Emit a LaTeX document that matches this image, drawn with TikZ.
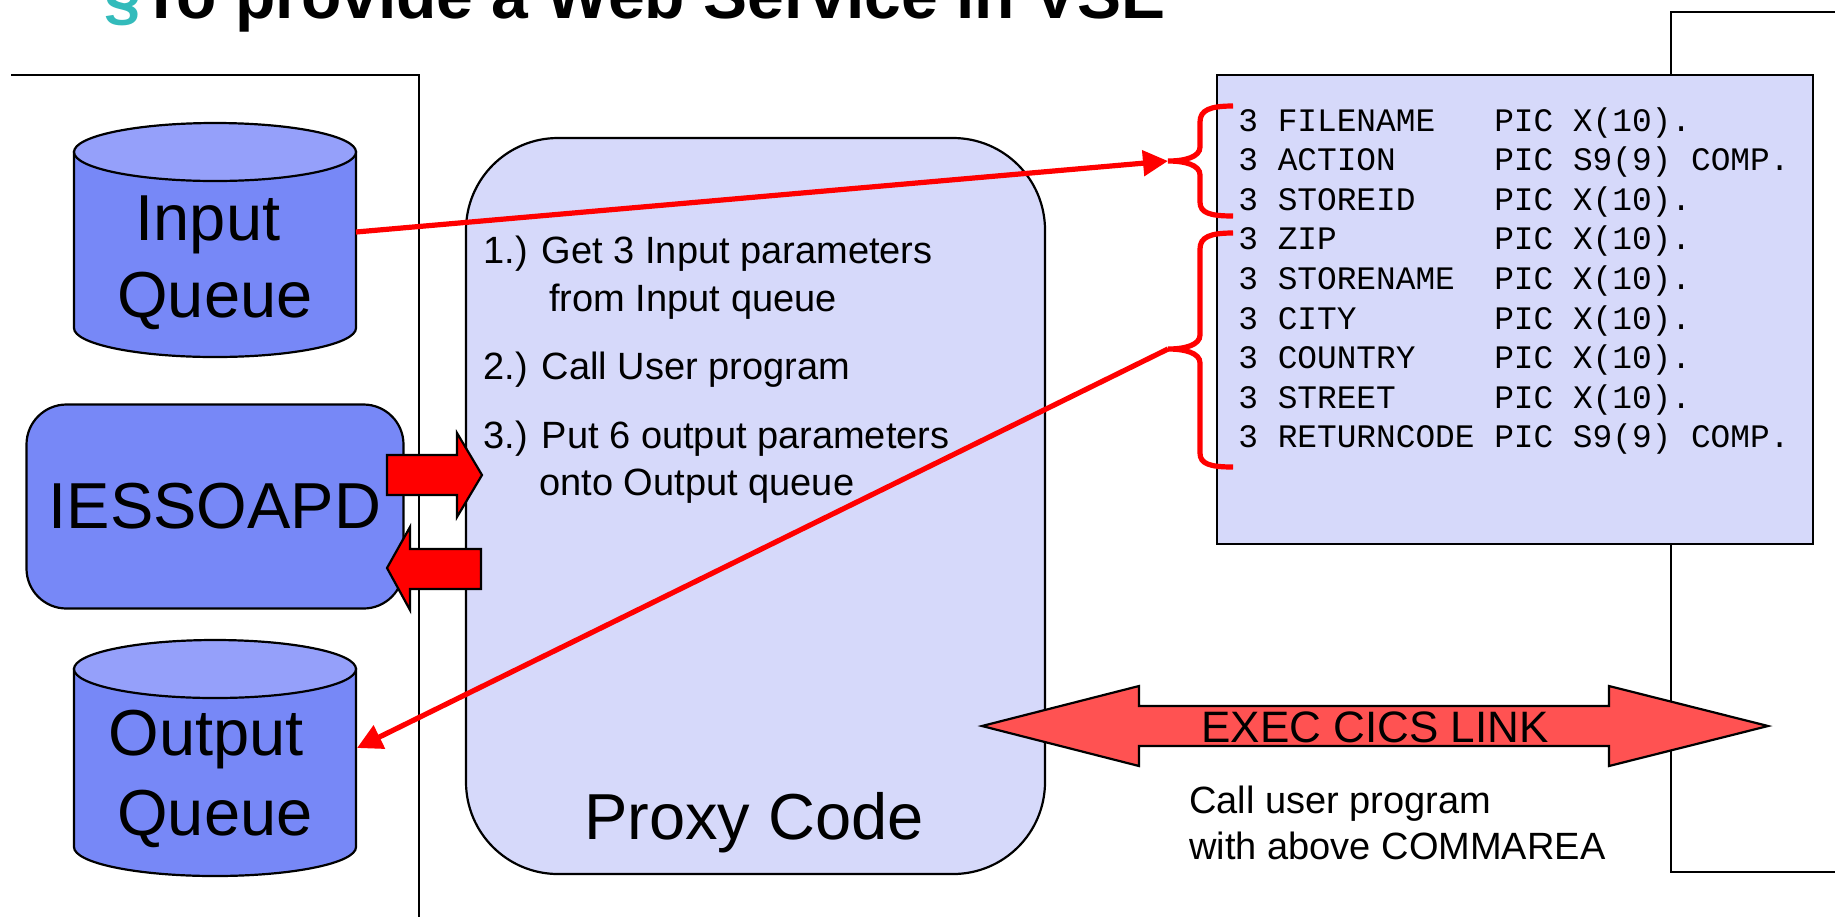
\documentclass[tikz,border=0pt]{standalone}
\usepackage{fontspec}
\setmainfont{Liberation Sans}
\setmonofont{Liberation Mono}
\usetikzlibrary{arrows.meta}
\definecolor{qbody}{RGB}{119,136,247}
\definecolor{qtop}{RGB}{149,160,250}
\definecolor{lav}{RGB}{214,217,250}
\definecolor{bred}{RGB}{255,0,0}
\definecolor{lred}{RGB}{255,82,82}
\definecolor{tealmark}{RGB}{51,187,187}
\begin{document}
\begin{tikzpicture}[x=0.5pt,y=-0.5pt,
  frameline/.style={draw=black, line width=1pt},
  outl/.style={draw=black, line width=1.1pt},
  redline/.style={draw=bred, line width=2.6pt, -{Triangle[length=12.5pt,width=12.5pt]}},
  bracestyle/.style={draw=bred, line width=2.6pt},
  big/.style={font=\fontsize{32.5pt}{39pt}\selectfont, inner sep=0},
  mid/.style={font=\fontsize{19pt}{23pt}\selectfont, inner sep=0},
  exec/.style={font=\fontsize{22pt}{26pt}\selectfont, inner sep=0},
  code/.style={font=\ttfamily\fontsize{16.4pt}{19.8pt}\selectfont, inner sep=0, anchor=base west},
  blockarrow/.style={fill=bred, draw=black, line width=1.1pt},
  linkarrow/.style={fill=lred, draw=black, line width=1.1pt}]
\useasboundingbox (0,0) rectangle (1835,917);
\fill[white] (0,0) rectangle (1835,917);

% title (cut at top)
\node[anchor=base west, inner sep=0, font=\bfseries\fontsize{33pt}{40pt}\selectfont] (title) at (104,18) {\textcolor{tealmark}{§}To provide a Web Service in VSE};

% frames
\draw[frameline] (1835,12) -- (1671,12) -- (1671,872) -- (1835,872);
\draw[frameline] (11,75) -- (419,75) -- (419,917);

% COMMAREA box
\node[draw, fill=lav, line width=1.3pt, minimum width=298pt, minimum height=234.5pt, inner sep=0] (commarea) at (1515,309.5) {};
\foreach \t [count=\i from 0] in {
  3~FILENAME~~~PIC~X(10).,
  3~ACTION~~~~~PIC~S9(9)~COMP.,
  3~STOREID~~~~PIC~X(10).,
  3~ZIP~~~~~~~~PIC~X(10).,
  3~STORENAME~~PIC~X(10).,
  3~CITY~~~~~~~PIC~X(10).,
  3~COUNTRY~~~~PIC~X(10).,
  3~STREET~~~~~PIC~X(10).,
  3~RETURNCODE~PIC~S9(9)~COMP.}
  \node[code, name=cl\i] at (1238,{131+39.6*\i}) {\t};

% proxy code box
\node[draw, fill=lav, rounded corners=46pt, minimum width=289.5pt, minimum height=368pt, line width=1.1pt, inner sep=0] (proxy) at (755.5,506) {};

% IESSOAPD
\node[draw, fill=qbody, rounded corners=20pt, minimum width=188.5pt, minimum height=102pt, line width=1.1pt, big] (iess) at (215,506.5) {IESSOAPD};

% input queue cylinder
\path[outl, fill=qbody] (74,152) -- (74,328) .. controls (74,344) and (137,357) .. (215,357) .. controls (293,357) and (356,344) .. (356,328) -- (356,152) -- cycle;
\path[outl, fill=qtop] (215,152) ellipse [x radius=70.5pt, y radius=14.5pt];
% output queue cylinder
\path[outl, fill=qbody] (74,669) -- (74,847) .. controls (74,863) and (137,876) .. (215,876) .. controls (293,876) and (356,863) .. (356,847) -- (356,669) -- cycle;
\path[outl, fill=qtop] (215,669) ellipse [x radius=70.5pt, y radius=14.5pt];

\node[big, anchor=base] (inq1) at (208,240) {Input};
\node[big, anchor=base] (inq2) at (215,317) {Queue};
\node[big, anchor=base] (outq1) at (206,755) {Output};
\node[big, anchor=base] (outq2) at (215,835) {Queue};

% connector end points
\coordinate (inqE) at (356,232);
\coordinate (outqE) at (357,748);
\coordinate (b1tip) at (1168,161);
\coordinate (b2tip) at (1168,349);

% braces
\draw[bracestyle] (1233,106) .. controls (1210,106) and (1200,110) .. (1200,122) -- (1200,147)
  .. controls (1200,157) and (1185,161) .. (b1tip) .. controls (1185,161) and (1200,165) .. (1200,175)
  -- (1200,202) .. controls (1200,213) and (1210,216) .. (1233,216);
\draw[bracestyle] (1233,233) .. controls (1210,233) and (1200,237) .. (1200,249) -- (1200,335)
  .. controls (1200,345) and (1185,349) .. (b2tip) .. controls (1185,349) and (1200,353) .. (1200,363)
  -- (1200,453) .. controls (1200,464) and (1210,467) .. (1233,467);

% red connectors
\draw[redline] (inqE) -- (b1tip);
\draw[redline] (b2tip) -- (outqE);

% block arrows
\draw[blockarrow] (387,455) -- (457,455) -- (457,433) -- (482,475) -- (457,517) -- (457,495) -- (387,495) -- cycle;
\draw[blockarrow] (481,549) -- (410,549) -- (410,527) -- (387,568) -- (410,610) -- (410,589) -- (481,589) -- cycle;

% EXEC CICS LINK arrow
\draw[linkarrow] (982,726) -- (1139,686) -- (1139,706) -- (1609,706) -- (1609,686) -- (1768,726)
  -- (1609,766) -- (1609,746) -- (1139,746) -- (1139,766) -- cycle;
\node[exec, anchor=base] (link) at (1375,742) {EXEC CICS LINK};

% proxy texts
\node[mid, anchor=base west] (s1a) at (483,263) {1.) Get 3 Input parameters};
\node[mid, anchor=base west] (s1b) at (549,311) {from Input queue};
\node[mid, anchor=base west] (s2) at (483,379) {2.) Call User program};
\node[mid, anchor=base west] (s3a) at (483,448) {3.) Put 6 output parameters};
\node[mid, anchor=base west] (s3b) at (539,495) {onto Output queue};
\node[big, anchor=base] (proxylabel) at (754,839) {Proxy Code};

% call text
\node[mid, anchor=base west] (call1) at (1189,813) {Call user program};
\node[mid, anchor=base west] (call2) at (1189,859) {with above COMMAREA};
\end{tikzpicture}
\end{document}
